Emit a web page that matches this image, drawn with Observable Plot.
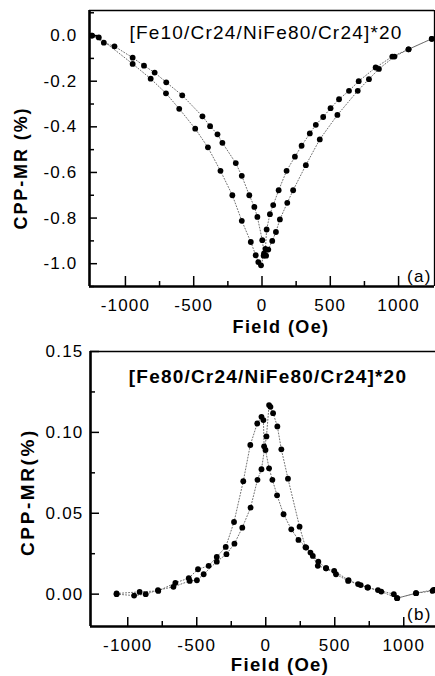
<!DOCTYPE html>
<html><head><meta charset="utf-8">
<script src="https://cdn.jsdelivr.net/npm/d3@7"></script>
<script src="https://cdn.jsdelivr.net/npm/@observablehq/plot@0.6"></script>
<style>
body{margin:0;background:#fff;}
#wrap{position:relative;width:435px;height:676px;overflow:hidden;background:#fff;font-family:"Liberation Sans",Arial,sans-serif;color:#000;}
.panel{position:absolute;left:0;}
.lab{position:absolute;font-weight:bold;white-space:nowrap;line-height:1;}
.rot{transform:translate(-50%,-50%) rotate(-90deg);}
</style></head><body>
<div id="wrap"></div>
<script>
// ---- Panel (a): [Fe10/Cr24/NiFe80/Cr24]*20 ----
const fieldA1 = [-1245,-1195,-947,-815,-703,-606,-489,-396,-304,-217,-148,-82,-46,-27,-7,12,25,34,58,82,122,180,241,290,350,394,448,502,564,637,708,832,954,1073,1243];
const mrA1    = [0.0,-0.008,-0.124,-0.189,-0.253,-0.321,-0.408,-0.490,-0.593,-0.700,-0.812,-0.905,-0.963,-0.993,-1.007,-0.965,-0.935,-0.850,-0.783,-0.743,-0.678,-0.593,-0.531,-0.483,-0.429,-0.391,-0.357,-0.318,-0.279,-0.242,-0.200,-0.140,-0.092,-0.060,-0.014];
const fieldA2 = [-1245,-1158,-1080,-947,-864,-786,-701,-584,-436,-380,-326,-290,-192,-148,-93,-56,-34,2,15,30,46,75,102,131,185,228,321,423,552,701,783,856,970,1073,1243];
const mrA2    = [0.0,-0.031,-0.047,-0.097,-0.132,-0.162,-0.205,-0.262,-0.354,-0.397,-0.433,-0.470,-0.559,-0.615,-0.700,-0.751,-0.795,-0.897,-0.955,-0.965,-0.938,-0.900,-0.861,-0.806,-0.733,-0.678,-0.568,-0.455,-0.348,-0.242,-0.191,-0.146,-0.092,-0.060,-0.014];

// ---- Panel (b): [Fe80/Cr24/NiFe80/Cr24]*20 ----
const fieldB1 = [-1081,-914,-779,-655,-558,-491,-414,-355,-290,-230,-163,-112,-62,-31,-17,-12,-2,24,48,82,129,185,237,293,341,377,437,509,597,688,741,837,952,1089,1209];
const mrB1    = [0.0004,0.0014,0.002,0.007,0.0099,0.0154,0.0175,0.023,0.0292,0.0446,0.0698,0.0922,0.1055,0.1096,0.1076,0.0914,0.0891,0.0778,0.0707,0.0611,0.0494,0.0401,0.0335,0.0288,0.0236,0.0175,0.016,0.0123,0.0082,0.0056,0.0041,0.0016,-0.0025,0.0006,0.002];
const fieldB2 = [-1081,-954,-870,-781,-669,-551,-499,-450,-355,-285,-227,-170,-110,-60,-31,5,24,34,53,84,113,161,245,288,324,381,437,496,600,669,737,813,928,952,1089,1216];
const mrB2    = [0.0,-0.0009,0.0,0.0025,0.0045,0.0082,0.0086,0.0123,0.0201,0.0247,0.0312,0.0411,0.0535,0.0707,0.0772,0.0975,0.1169,0.1158,0.1119,0.1037,0.0895,0.0714,0.0417,0.0290,0.0257,0.0201,0.0160,0.0144,0.0086,0.0062,0.0041,0.0025,0.0,-0.0025,0.0006,0.0027];

// ---- ticks / labels ----
const xMajor = [-1000,-500,0,500,1000];
const xMinor = [-750,-250,250,750];
const yMajorA = [-1.0,-0.8,-0.6,-0.4,-0.2,0.0];
const yMinorA = [-1.1,-0.9,-0.7,-0.5,-0.3,-0.1,0.1];
const yMajorB = [0.00,0.05,0.10,0.15];
const yMinorB = [0.025,0.075,0.125];
const titleA = "[Fe10/Cr24/NiFe80/Cr24]*20";
const titleB = "[Fe80/Cr24/NiFe80/Cr24]*20";
const xLabel = "Field (Oe)";
const yLabelA = "CPP-MR (%)";
const yLabelB = "CPP-MR(%)";

const rows = (xs, ys) => xs.map((x, i) => ({x, y: ys[i]}));

function panel(o) {
  const r1 = rows(o.x1, o.y1), r2 = rows(o.x2, o.y2);
  const lineStyle = {x: "x", y: "y", stroke: "#555", strokeWidth: 0.85, strokeDasharray: "1,2"};
  const marks = [
    Plot.line(r1, lineStyle),
    Plot.line(r2, lineStyle),
    Plot.dot(r1, {x: "x", y: "y", r: 2.9, fill: "#000", stroke: "none"}),
    Plot.dot(r2, {x: "x", y: "y", r: 2.9, fill: "#000", stroke: "none"}),
    Plot.axisX({ticks: xMajor, tickSize: -o.xt, tickPadding: o.xt + o.xoff, tickFormat: d => String(d), label: null, strokeWidth: 1.5}),
    Plot.axisX({ticks: xMinor, tickSize: -5, tickFormat: () => "", label: null, strokeWidth: 1.5}),
    Plot.axisY({ticks: o.yMajor, tickSize: -o.yt, tickPadding: o.yt + o.yoff, tickFormat: o.fmt, label: null, strokeWidth: 1.5}),
    Plot.axisY({ticks: o.yMinor, tickSize: -5, tickFormat: () => "", label: null, strokeWidth: 1.5}),
    Plot.ruleY([o.yDomain[1]], {stroke: "#000", strokeWidth: 1.3}),
    Plot.ruleX([o.xDomain[0]], {stroke: "#000", strokeWidth: 2.6}),
    Plot.ruleY([o.yDomain[0]], {stroke: "#000", strokeWidth: 2.6}),
    Plot.text([o.title], {frameAnchor: "top", lineAnchor: "top", dx: o.tdx, dy: o.tdy, fontSize: 19, fontWeight: o.tbold ? "bold" : "normal"}),
    Plot.text([o.tag], {frameAnchor: "bottom-right", textAnchor: "end", lineAnchor: "bottom", dx: o.gdx, dy: o.gdy, fontSize: 17})
  ];
  if (o.rightBorder) marks.push(Plot.ruleX([o.xDomain[1]], {stroke: "#000", strokeWidth: 1.3}));
  return Plot.plot({
    width: 435, height: o.height,
    marginTop: o.mt, marginBottom: o.mb, marginLeft: o.ml, marginRight: o.mr,
    x: {domain: o.xDomain},
    y: {domain: o.yDomain},
    style: "font-family:'Liberation Sans',Arial,sans-serif;font-size:17px;letter-spacing:1.2px;color:#000;background:#fff;overflow:visible;",
    marks
  });
}

const wrap = document.getElementById("wrap");

const a = panel({
  x1: fieldA1, y1: mrA1, x2: fieldA2, y2: mrA2,
  xDomain: [-1263, 1263], yDomain: [-1.1, 0.11],
  yMajor: yMajorA, yMinor: yMinorA, fmt: d => d.toFixed(1),
  height: 345, mt: 10, mb: 59, ml: 89, mr: 1,
  xt: 10, xoff: 12, yt: 8, yoff: 12,
  title: titleA, tbold: false, tdx: 4, tdy: 15,
  tag: "(a)", gdx: -3, gdy: -5, rightBorder: true
});
a.classList.add("panel"); a.style.top = "0px";
wrap.appendChild(a);

const b = panel({
  x1: fieldB1, y1: mrB1, x2: fieldB2, y2: mrB2,
  xDomain: [-1270, 1230], yDomain: [-0.02, 0.15],
  yMajor: yMajorB, yMinor: yMinorB, fmt: d => d.toFixed(2),
  height: 331, mt: 6, mb: 50, ml: 90, mr: 0,
  xt: 9, xoff: 12, yt: 9, yoff: 7,
  title: titleB, tbold: true, tdx: 5, tdy: 18,
  tag: "(b)", gdx: -4, gdy: -7, rightBorder: false
});
b.classList.add("panel"); b.style.top = "345px";
wrap.appendChild(b);

function label(text, x, y, size, ls, rotate) {
  const d = document.createElement("div");
  d.className = "lab" + (rotate ? " rot" : "");
  d.textContent = text;
  d.style.fontSize = size + "px";
  d.style.letterSpacing = ls + "px";
  d.style.left = x + "px";
  d.style.top = y + "px";
  if (!rotate) d.style.transform = "translate(-50%,-50%)";
  wrap.appendChild(d);
}
label(yLabelA, 21, 168, 18, 1.9, true);
label(xLabel, 281, 327, 18, 1.4, false);
label(yLabelB, 26.5, 492, 19, 2.6, true);
label(xLabel, 280, 665, 18.5, 1.3, false);
</script>
</body></html>
